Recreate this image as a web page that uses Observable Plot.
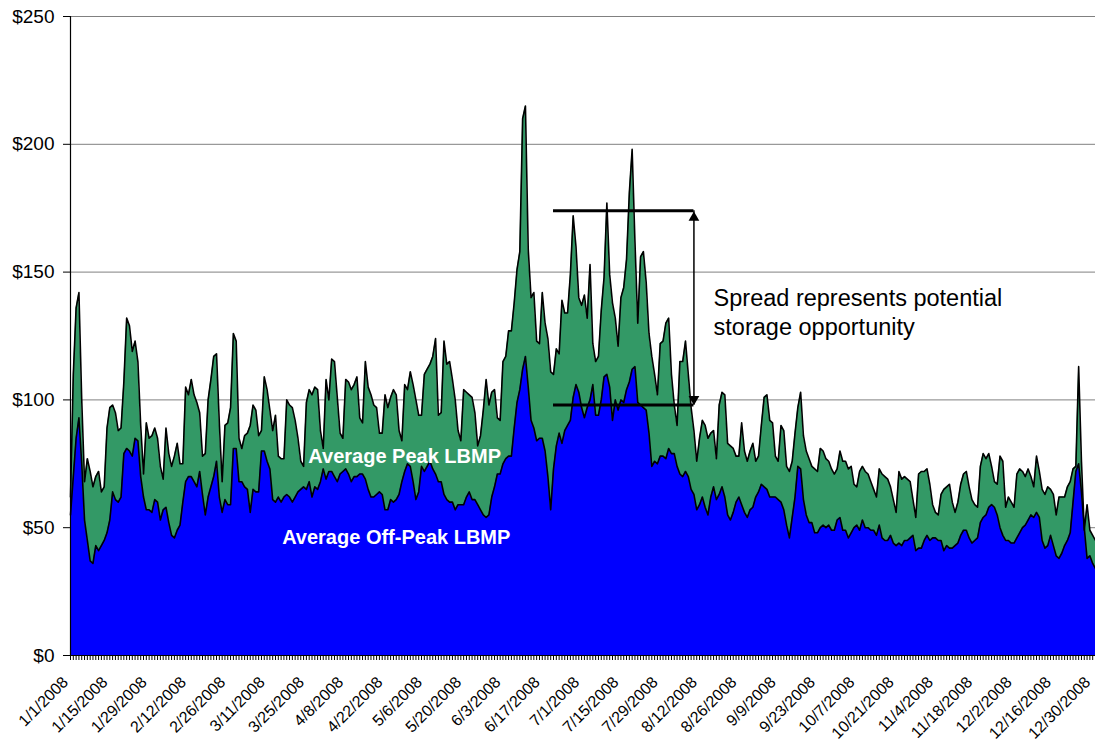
<!DOCTYPE html>
<html><head><meta charset="utf-8">
<script src="https://cdn.jsdelivr.net/npm/d3@7"></script>
<script src="https://cdn.jsdelivr.net/npm/@observablehq/plot@0.6"></script>
<style>html,body{margin:0;padding:0;background:#fff;} svg{display:block}</style>
</head><body><div id="chart"></div>
<script>
const startDate = "2008-01-01";

const peakLBMP = [
62,110,136,142,100,68,77,72,66,70,
72,64,66,89,97,98,95,88,89,107,
132,129,119,123,115,90,71,91,85,86,
89,85,74,69,89,79,74,78,83,75,
75,105,102,108,102,99,95,78,79,100,
108,117,118,91,68,90,91,97,126,123,
85,81,86,87,90,98,96,86,88,109,
104,96,88,94,78,77,77,100,98,97,
92,85,76,74,99,104,102,105,104,88,
81,108,100,116,115,101,87,85,108,107,
104,106,109,93,91,115,105,102,98,97,
87,87,102,97,101,104,102,88,84,106,
104,111,106,100,94,94,110,112,114,117,
124,94,95,123,114,115,108,100,88,84,
104,103,102,101,95,82,86,96,108,98,
103,104,93,92,115,117,127,127,138,151,
158,210,215,159,140,142,123,122,142,130,
124,111,110,120,118,139,134,134,149,172,
160,140,137,141,132,153,122,115,117,135,
148,177,149,138,132,121,140,144,155,181,
198,162,130,156,158,146,126,117,110,102,
122,123,130,132,110,98,90,115,115,123,
110,97,88,76,85,92,90,85,87,88,
77,98,103,102,83,82,81,78,78,91,
80,76,80,83,76,78,90,101,102,92,
91,78,76,90,88,74,72,76,87,97,
103,86,80,77,74,73,72,81,80,77,
76,73,71,73,80,76,76,73,74,67,
66,72,74,72,71,68,65,62,73,71,
70,69,66,61,56,72,69,70,69,68,
61,54,71,72,72,73,67,59,56,55,
63,65,66,67,60,56,60,67,71,72,
66,61,59,58,74,79,77,79,74,68,
67,78,76,58,62,60,58,71,73,72,
70,73,70,66,78,72,65,63,66,65,
63,55,62,62,62,66,68,73,74,113,
76,49,59,49,47,45
];

const offPeakLBMP = [
55,70,85,93,75,53,45,37,36,43,
41,43,45,48,53,64,61,60,62,79,
81,80,78,85,84,70,62,57,57,56,
61,60,53,57,58,52,47,46,49,51,
60,68,70,70,68,66,72,63,55,62,
66,70,76,62,56,61,59,59,81,81,
68,68,66,65,56,65,64,64,80,80,
76,73,61,60,62,60,62,63,62,60,
62,64,65,66,65,68,62,66,65,68,
73,69,72,72,70,68,71,72,73,71,
68,70,70,71,71,69,65,62,62,63,
64,63,57,57,61,60,61,63,68,72,
75,74,68,61,64,74,72,74,76,73,
71,68,68,63,61,60,60,57,59,59,
59,62,64,61,61,59,57,55,54,55,
62,66,71,71,75,77,78,78,89,99,
104,112,117,105,92,89,84,85,85,80,
70,57,73,82,87,83,88,90,92,101,
106,103,97,93,97,100,106,94,94,100,
109,110,105,92,100,96,100,99,104,107,
112,113,99,98,97,96,87,74,76,75,
78,78,77,81,79,79,74,71,70,72,
70,65,63,57,59,62,58,55,62,66,
61,63,66,62,55,53,56,60,62,59,
56,54,57,58,62,64,67,66,65,62,
62,62,61,60,57,51,46,54,62,74,
73,61,55,52,52,48,48,50,51,50,
51,49,49,53,54,49,49,46,48,50,
51,49,53,50,50,49,49,47,51,46,
45,45,47,44,43,44,43,45,45,46,
47,41,42,42,45,47,45,46,46,45,
45,41,43,42,42,43,44,47,49,49,
46,44,45,46,52,54,55,58,59,58,
55,50,47,45,45,44,44,46,48,50,
51,53,55,54,56,54,45,42,43,47,
43,39,38,40,43,45,48,60,72,75,
64,50,38,39,36,34
];

const xTickLabels = ["1/1/2008","1/15/2008","1/29/2008","2/12/2008","2/26/2008","3/11/2008","3/25/2008",
"4/8/2008","4/22/2008","5/6/2008","5/20/2008","6/3/2008","6/17/2008","7/1/2008","7/15/2008","7/29/2008",
"8/12/2008","8/26/2008","9/9/2008","9/23/2008","10/7/2008","10/21/2008","11/4/2008","11/18/2008",
"12/2/2008","12/16/2008","12/30/2008"];
const yTicks = [0, 50, 100, 150, 200, 250];

const seriesNames = ["Average Peak LBMP", "Average Off-Peak LBMP"];
const seriesColors = ["#339966", "#0000ff"];
const seriesLabelPos = [{date: "2008-04-29", value: 78}, {date: "2008-04-26", value: 46}];

const spreadHigh = 174, spreadLow = 98;
const spreadFrom = "2008-06-21", spreadTo = "2008-08-10";
const spreadText = "Spread represents potential\nstorage opportunity";
const spreadTextPos = {date: "2008-08-17", value: 145};

const parseISO = s => new Date(s + "T00:00:00Z");
const t0 = parseISO(startDate);
const days = peakLBMP.map((_, i) => d3.utcDay.offset(t0, i));
const data = days.map((d, i) => ({date: d, peak: peakLBMP[i], off: offPeakLBMP[i]}));
const parseTick = d3.utcParse("%m/%d/%Y");
const tickDates = xTickLabels.map(parseTick);
const fmt = d3.utcFormat("%-m/%-d/%Y");
const font = "'Liberation Sans', Arial, sans-serif";

const chart = Plot.plot({
  width: 1095,
  height: 741,
  marginLeft: 70,
  marginRight: 0,
  marginTop: 16,
  marginBottom: 86,
  style: {fontFamily: font, fontSize: "18px", color: "#000", background: "#fff"},
  x: {type: "utc", domain: [days[0], days[days.length - 1]]},
  y: {domain: [0, 250]},
  marks: [
    Plot.ruleY(yTicks.slice(1), {stroke: "#808080", strokeWidth: 1}),
    Plot.areaY(data, {x: "date", y: "peak", fill: seriesColors[0]}),
    Plot.areaY(data, {x: "date", y: "off", fill: seriesColors[1]}),
    Plot.lineY(data, {x: "date", y: "peak", stroke: "#000", strokeWidth: 1.6}),
    Plot.lineY(data, {x: "date", y: "off", stroke: "#000", strokeWidth: 1.6}),
    Plot.ruleY([0], {stroke: "#000", strokeWidth: 1}),
    Plot.ruleX([days[0]], {stroke: "#000", strokeWidth: 1.2}),
    Plot.axisY({ticks: yTicks, tickFormat: d => "$" + d, tickSize: 7, tickPadding: 9, fontSize: 19, label: null}),
    Plot.axisX({ticks: days, tickFormat: () => "", tickSize: 5, label: null}),
    Plot.axisX({ticks: tickDates, tickFormat: fmt, tickSize: 0, tickRotate: -45, tickPadding: 24, dx: -5, fontSize: 16, label: null}),
    // spread annotation
    Plot.ruleY([spreadHigh, spreadLow], {x1: parseISO(spreadFrom), x2: parseISO(spreadTo), stroke: "#000", strokeWidth: 3.2}),
    Plot.ruleX([parseISO(spreadTo)], {y1: spreadLow, y2: spreadHigh, stroke: "#000", strokeWidth: 1.5}),
    Plot.dot([parseISO(spreadTo)], {x: d => d, y: spreadHigh, symbol: "triangle", r: 4, fill: "#000", stroke: null, dy: 7}),
    Plot.dot([parseISO(spreadTo)], {x: d => d, y: spreadLow, symbol: "triangle", r: 4, fill: "#000", stroke: null, dy: -6, rotate: 180}),
    Plot.text([spreadText], {x: parseISO(spreadTextPos.date), y: spreadTextPos.value, text: d => d, textAnchor: "start", lineAnchor: "top", lineHeight: 1.25, fontSize: 23.5, fill: "#000"}),
    // series labels
    Plot.text(seriesNames, {x: (d, i) => parseISO(seriesLabelPos[i].date), y: (d, i) => seriesLabelPos[i].value, text: d => d, fill: "#fff", fontWeight: "bold", fontSize: 20})
  ]
});
document.getElementById("chart").appendChild(chart);
</script>
</body></html>
